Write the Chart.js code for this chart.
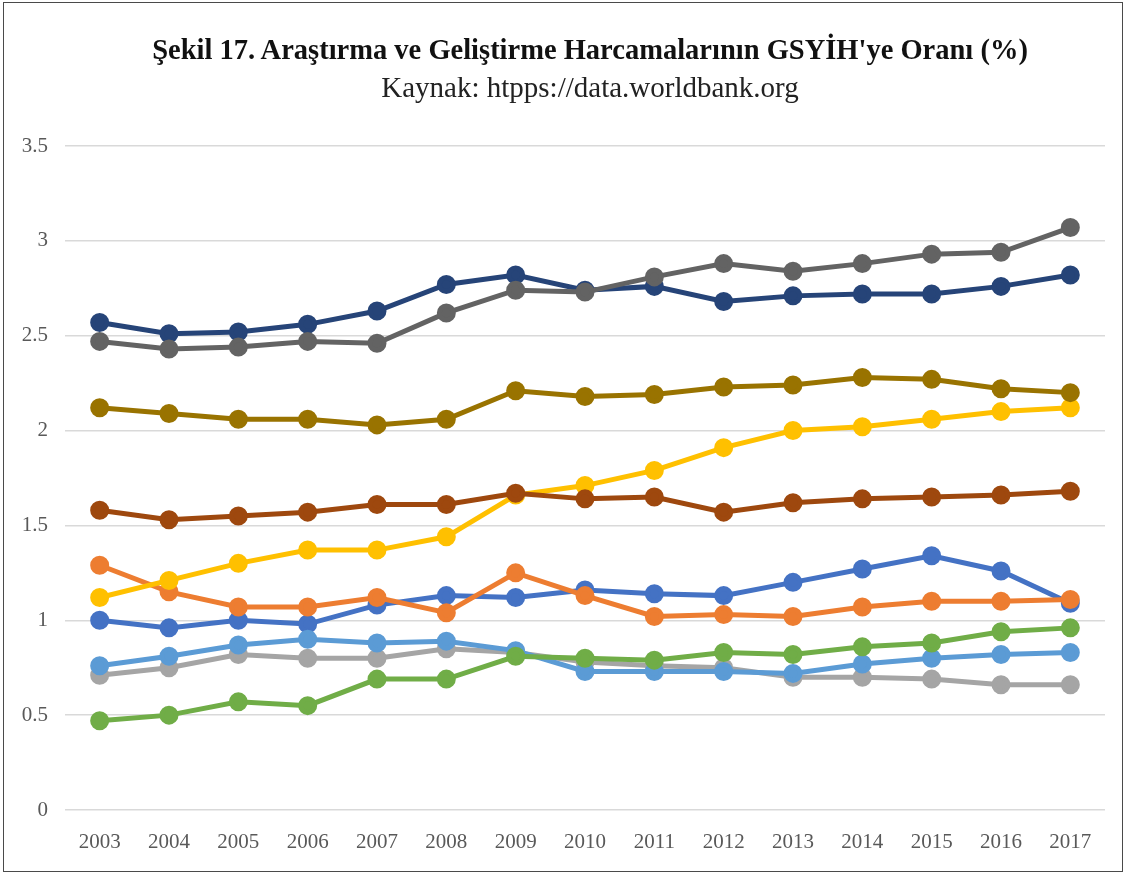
<!DOCTYPE html>
<html>
<head>
<meta charset="utf-8">
<script src="https://cdn.jsdelivr.net/npm/chart.js@4"></script>
<style>
  html, body { margin: 0; padding: 0; background: #fff; }
  #wrap { position: relative; width: 1126px; height: 875px; font-family: 'Liberation Serif', 'DejaVu Serif', serif; }
  #frame { position: absolute; left: 3px; top: 2px; width: 1118px; height: 868px; border: 1.5px solid #4a4a4a; pointer-events: none; }
  .head { position: absolute; left: 390px; width: 400px; text-align: center; white-space: nowrap; display: flex; justify-content: center; }
  #title { top: 33px; font-size: 28.5px; font-weight: bold; color: #111; line-height: 34px; }
  #subtitle { top: 70px; font-size: 29px; color: #222; line-height: 34px; }
</style>
</head>
<body>
<div id="wrap">
  <canvas id="rdChart" width="1126" height="875"></canvas>
  <div class="head" id="title">Şekil 17. Araştırma ve Geliştirme Harcamalarının GSYİH'ye Oranı (%)</div>
  <div class="head" id="subtitle">Kaynak: htpps://data.worldbank.org</div>
  <div id="frame"></div>
</div>
<script>
// years on the x axis
const years = ["2003", "2004", "2005", "2006", "2007", "2008", "2009", "2010",
               "2011", "2012", "2013", "2014", "2015", "2016", "2017"];

// series values (Excel default palette order)
const seriesBlue      = [1.00, 0.96, 1.00, 0.98, 1.08, 1.13, 1.12, 1.16, 1.14, 1.13, 1.20, 1.27, 1.34, 1.26, 1.09];
const seriesOrange    = [1.29, 1.15, 1.07, 1.07, 1.12, 1.04, 1.25, 1.13, 1.02, 1.03, 1.02, 1.07, 1.10, 1.10, 1.11];
const seriesGray      = [0.71, 0.75, 0.82, 0.80, 0.80, 0.85, 0.83, 0.78, 0.76, 0.75, 0.70, 0.70, 0.69, 0.66, 0.66];
const seriesYellow    = [1.12, 1.21, 1.30, 1.37, 1.37, 1.44, 1.66, 1.71, 1.79, 1.91, 2.00, 2.02, 2.06, 2.10, 2.12];
const seriesLightBlue = [0.76, 0.81, 0.87, 0.90, 0.88, 0.89, 0.84, 0.73, 0.73, 0.73, 0.72, 0.77, 0.80, 0.82, 0.83];
const seriesGreen     = [0.47, 0.50, 0.57, 0.55, 0.69, 0.69, 0.81, 0.80, 0.79, 0.83, 0.82, 0.86, 0.88, 0.94, 0.96];
const seriesNavy      = [2.57, 2.51, 2.52, 2.56, 2.63, 2.77, 2.82, 2.74, 2.76, 2.68, 2.71, 2.72, 2.72, 2.76, 2.82];
const seriesBrown     = [1.58, 1.53, 1.55, 1.57, 1.61, 1.61, 1.67, 1.64, 1.65, 1.57, 1.62, 1.64, 1.65, 1.66, 1.68];
const seriesDarkGray  = [2.47, 2.43, 2.44, 2.47, 2.46, 2.62, 2.74, 2.73, 2.81, 2.88, 2.84, 2.88, 2.93, 2.94, 3.07];
const seriesOlive     = [2.12, 2.09, 2.06, 2.06, 2.03, 2.06, 2.21, 2.18, 2.19, 2.23, 2.24, 2.28, 2.27, 2.22, 2.20];

const allSeries = [seriesBlue, seriesOrange, seriesGray, seriesYellow, seriesLightBlue,
                   seriesGreen, seriesNavy, seriesBrown, seriesDarkGray, seriesOlive];
const colors = ["#4472C4", "#ED7D31", "#A5A5A5", "#FFC000", "#5B9BD5",
                "#70AD47", "#264478", "#9E480E", "#636363", "#997300"];

const fontFamily = "'Liberation Serif', 'DejaVu Serif', serif";

const datasets = allSeries.map((vals, i) => ({
    label: "Seri " + (i + 1),
    data: vals,
    borderColor: colors[i],
    backgroundColor: colors[i],
    borderWidth: 5,
    pointRadius: 7,
    pointHoverRadius: 7,
    tension: 0,
    order: allSeries.length - i   // later series drawn on top, like Excel
}));

const ctx = document.getElementById("rdChart").getContext("2d");
new Chart(ctx, {
    type: "line",
    data: { labels: years, datasets: datasets },
    options: {
        responsive: false,
        animation: false,
        layout: { padding: { left: 8, right: 21, top: 146, bottom: 10 } },
        plugins: {
            legend: { display: false },
            tooltip: { enabled: false }
        },
        scales: {
            x: {
                offset: true,
                grid: { display: false },
                border: { display: false },
                ticks: { color: "#595959", font: { family: fontFamily, size: 21 }, padding: 12, maxRotation: 0 },
                afterFit: (scale) => { scale.height = 55; }
            },
            y: {
                min: 0,
                max: 3.5,
                grid: { color: "#d9d9d9", lineWidth: 1.5, drawTicks: false },
                border: { display: false },
                ticks: {
                    stepSize: 0.5,
                    color: "#595959",
                    font: { family: fontFamily, size: 21 },
                    padding: 17,
                    callback: (v) => String(v)
                },
                afterFit: (scale) => { scale.width = 57; }
            }
        }
    }
});
</script>
</body>
</html>
